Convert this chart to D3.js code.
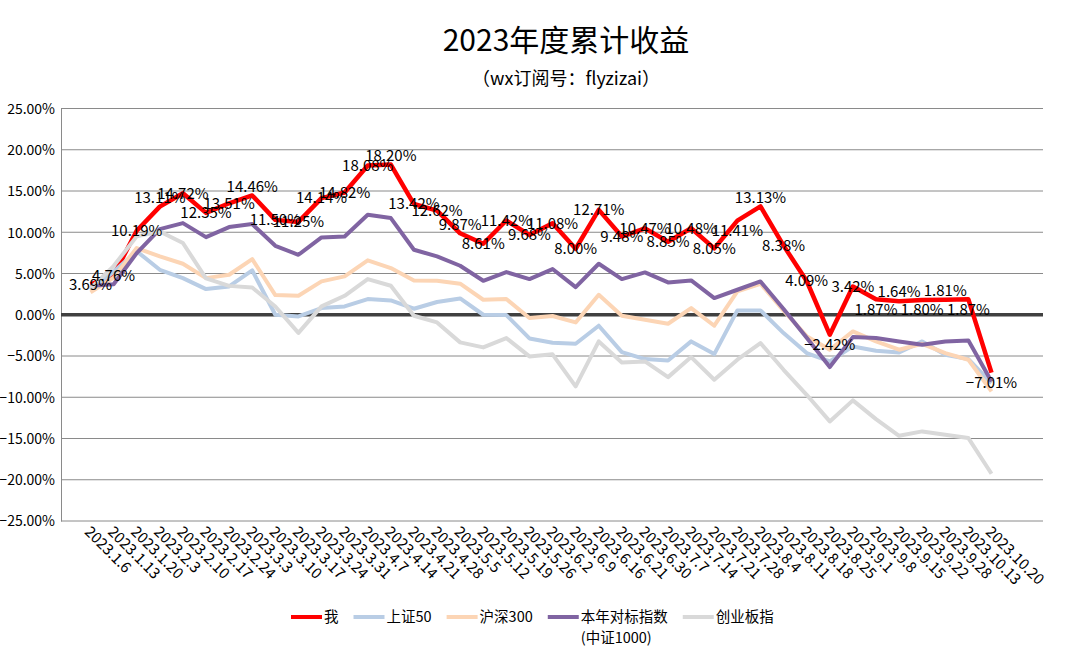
<!DOCTYPE html>
<html>
<head>
<meta charset="utf-8">
<script src="https://cdn.jsdelivr.net/npm/d3@7"></script>
<style>
  body { margin: 0; background: #fff; }
  svg text { font-family: "Noto Sans CJK SC", "Noto Sans", sans-serif; fill: #000; }
</style>
</head>
<body>
<div id="chart"></div>
<script>
// categories (weekly dates)
var dates = ["2023.1.6","2023.1.13","2023.1.20","2023.2.3","2023.2.10","2023.2.17","2023.2.24",
  "2023.3.3","2023.3.10","2023.3.17","2023.3.24","2023.3.31","2023.4.7","2023.4.14","2023.4.21",
  "2023.4.28","2023.5.5","2023.5.12","2023.5.19","2023.5.26","2023.6.2","2023.6.9","2023.6.16",
  "2023.6.21","2023.6.30","2023.7.7","2023.7.14","2023.7.21","2023.7.28","2023.8.4","2023.8.11",
  "2023.8.18","2023.8.25","2023.9.1","2023.9.8","2023.9.15","2023.9.22","2023.9.28","2023.10.13",
  "2023.10.20"];

// series values, percent
var me = [3.69,4.76,10.19,13.11,14.72,12.35,13.51,14.46,11.50,11.25,14.14,14.82,18.08,18.20,13.42,
  12.62,9.87,8.61,11.42,9.68,11.08,8.00,12.71,9.48,10.47,8.85,10.48,8.05,11.41,13.13,8.38,4.09,
  -2.42,3.42,1.87,1.64,1.80,1.81,1.87,-7.01];
var sz50 = [3.0,5.2,7.7,5.45,4.44,3.11,3.43,5.37,0.0,-0.2,0.81,1.01,1.9,1.74,0.73,1.54,1.98,0.0,
  -0.04,-2.87,-3.4,-3.52,-1.33,-4.53,-5.37,-5.54,-3.23,-4.77,0.53,0.53,-2.22,-4.65,-5.66,-3.84,
  -4.36,-4.57,-3.23,-4.85,-5.37,-8.28];
var hs300 = [2.71,4.5,8.08,7.07,6.18,4.44,4.85,6.75,2.38,2.3,4.04,4.65,6.59,5.66,4.16,4.12,3.76,
  1.82,1.9,-0.4,-0.15,-0.93,2.42,-0.12,-0.61,-1.09,0.81,-1.33,2.83,3.76,0.5,-2.6,-4.24,-2.02,
  -3.23,-4.24,-3.52,-4.65,-5.45,-9.29];
var zz1000 = [3.5,3.7,7.47,10.38,11.11,9.41,10.63,10.99,8.36,7.27,9.37,9.49,12.12,11.72,7.88,7.07,
  5.94,4.12,5.17,4.32,5.54,3.35,6.18,4.32,5.13,3.92,4.16,2.02,3.03,4.04,0.7,-2.8,-6.34,-2.71,
  -2.83,-3.23,-3.64,-3.23,-3.11,-8.08];
var cyb = [3.2,5.9,9.5,10.1,8.7,4.4,3.5,3.3,1.0,-2.2,1.01,2.3,4.32,3.52,-0.12,-0.93,-3.35,-3.96,
  -2.83,-5.05,-4.8,-8.69,-3.23,-5.78,-5.66,-7.56,-5.13,-7.88,-5.45,-3.43,-6.67,-9.7,-12.93,
  -10.38,-12.65,-14.67,-14.14,-14.55,-14.95,-19.27];

// y axis tick values
var yTicks = [25,20,15,10,5,0,-5,-10,-15,-20,-25];

var seriesNames = ["我","上证50","沪深300","本年对标指数","创业板指"];

var W = 1080, H = 657;
var plot = {left: 61, right: 1043, top: 108.5, bottom: 521};

var series = [
  {name: seriesNames[0], values: me,     color: "#ff0000", width: 4.5},
  {name: seriesNames[1], values: sz50,   color: "#b9cde5", width: 4},
  {name: seriesNames[2], values: hs300,  color: "#fcd5b5", width: 4},
  {name: seriesNames[3], values: zz1000, color: "#8064a2", width: 4},
  {name: seriesNames[4], values: cyb,    color: "#d9d9d9", width: 4}
];

// label placement option per point (like Excel's "above"/"below"), default centre
var labelPlace = {3: "above", 7: "above", 13: "above", 16: "above", 28: "below", 29: "above",
  32: "below", 34: "below", 35: "above", 36: "below", 37: "above", 38: "below", 39: "below"};
var placeShift = {above: -9, below: 10};

var svg = d3.select("#chart").append("svg")
  .attr("width", W).attr("height", H);

var x = d3.scalePoint().domain(dates).range([90.5, 991.5]);
var y = d3.scaleLinear().domain([-25, 25]).range([plot.bottom, plot.top]);

// title
svg.append("text").attr("x", 566).attr("y", 51)
  .attr("text-anchor", "middle").style("font-size", "30px")
  .text("2023年度累计收益");
svg.append("text").attr("x", 566).attr("y", 85)
  .attr("text-anchor", "middle").style("font-size", "18px")
  .text("（wx订阅号：flyzizai）");

// gridlines
svg.append("g").selectAll("line").data(yTicks.filter(function(d){ return d !== 0; }))
  .enter().append("line")
  .attr("x1", plot.left).attr("x2", plot.right)
  .attr("y1", function(d){ return y(d); }).attr("y2", function(d){ return y(d); })
  .attr("stroke", "#8a8a8a").attr("stroke-width", 1);

// y axis
var yAxis = d3.axisLeft(y).tickValues(yTicks).tickSize(0).tickPadding(6)
  .tickFormat(function(d){ return d3.format(".2f")(d) + "%"; });
var yg = svg.append("g").attr("transform", "translate(" + plot.left + ",0)").call(yAxis);
yg.select(".domain").attr("stroke", "#8a8a8a");
yg.selectAll("text").style("font-size", "14px").attr("dy", "0.35em");

// zero line
svg.append("line")
  .attr("x1", plot.left).attr("x2", plot.right)
  .attr("y1", y(0)).attr("y2", y(0))
  .attr("stroke", "#404040").attr("stroke-width", 3.5);

// x axis labels, rotated
var xg = svg.append("g");
xg.selectAll("text").data(dates).enter().append("text")
  .attr("transform", function(d){ return "translate(" + (x(d) - 3) + "," + 529 + ") rotate(45)"; })
  .attr("text-anchor", "start")
  .attr("dy", "0.35em")
  .style("font-size", "15px")
  .text(function(d){ return d; });

// lines
var line = d3.line()
  .x(function(d, i){ return x(dates[i]); })
  .y(function(d){ return y(d); });

svg.append("g").selectAll("path").data(series).enter().append("path")
  .attr("d", function(s){ return line(s.values); })
  .attr("fill", "none")
  .attr("stroke", function(s){ return s.color; })
  .attr("stroke-width", function(s){ return s.width; })
  .attr("stroke-linejoin", "round");

// data labels for my series
svg.append("g").selectAll("text").data(me).enter().append("text")
  .attr("x", function(d, i){ return x(dates[i]); })
  .attr("y", function(d, i){
    var p = labelPlace[i];
    return y(d) + (p ? placeShift[p] : 0);
  })
  .attr("dy", "0.35em")
  .attr("text-anchor", "middle")
  .style("font-size", "15px")
  .text(function(d){ return d3.format(".2f")(d) + "%"; });

// legend
var legend = svg.append("g");
var lx = 291, ly = 617;
series.forEach(function(s, i){
  legend.append("line")
    .attr("x1", lx).attr("x2", lx + 31).attr("y1", ly).attr("y2", ly)
    .attr("stroke", s.color).attr("stroke-width", 4);
  var t = legend.append("text").attr("x", lx + 33).attr("y", ly)
    .attr("dy", "0.35em").style("font-size", "14.5px").text(s.name);
  var w = t.node().getComputedTextLength();
  if (i === 3) {
    var t2 = legend.append("text").attr("x", lx + 33).attr("y", ly + 21)
      .attr("dy", "0.35em").style("font-size", "14.5px").text("(中证1000)");
    w = Math.max(w, t2.node().getComputedTextLength());
  }
  lx += 33 + w + 15;
});
</script>
</body>
</html>
